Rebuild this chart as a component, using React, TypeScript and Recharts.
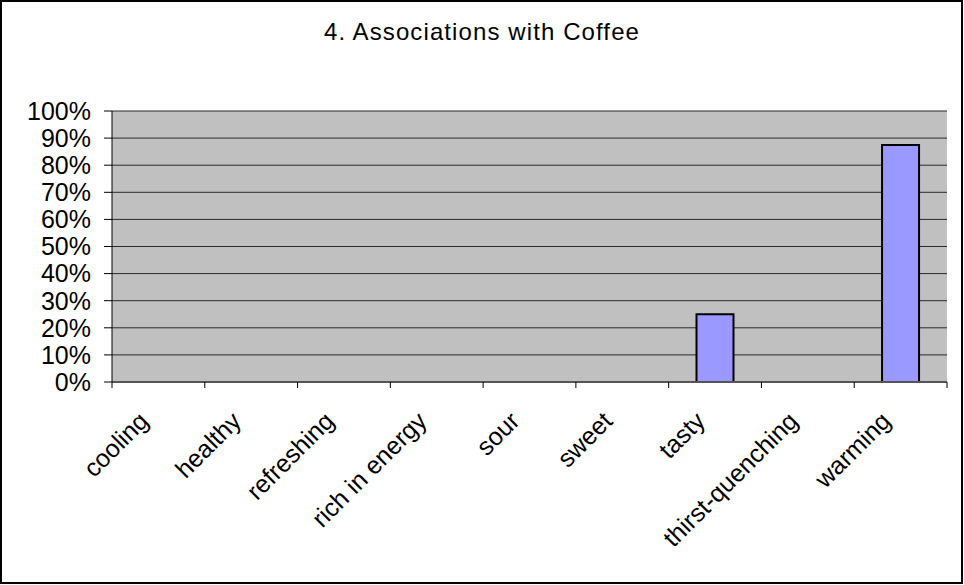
import { BarChart, Bar, CartesianGrid, XAxis, YAxis } from "recharts";

const CATEGORIES = [
  "cooling",
  "healthy",
  "refreshing",
  "rich in energy",
  "sour",
  "sweet",
  "tasty",
  "thirst-quenching",
  "warming",
];

const SHARES = [0, 0, 0, 0, 0, 0, 25, 0, 87.5];

const Y_TICKS = [0, 10, 20, 30, 40, 50, 60, 70, 80, 90, 100];

const FONT = "'Liberation Sans', Arial, sans-serif";

const X_TICK_SIZE = 6;
const X_TICK_MARGIN = 17;

const data = CATEGORIES.map((name, i) => ({ name, value: SHARES[i] }));

// Excel puts the category tick marks between categories, not under them
const CategoryTick = (props: any) => {
  const { x, y, payload, index, visibleTicksCount } = props;
  const half = payload.offset || 0;
  const axisY = y - X_TICK_SIZE - X_TICK_MARGIN;
  const px = x - 21;
  const py = y + 5;
  const isLast = index === visibleTicksCount - 1;
  return (
    <g>
      <line x1={x - half} x2={x - half} y1={axisY} y2={axisY + X_TICK_SIZE} stroke="#000" />
      {isLast && (
        <line x1={x + half} x2={x + half} y1={axisY} y2={axisY + X_TICK_SIZE} stroke="#000" />
      )}
      <text
        x={px}
        y={py}
        dy="0.71em"
        textAnchor="end"
        fontSize={25}
        fontFamily={FONT}
        fill="#000"
        transform={`rotate(-45, ${px}, ${py})`}
      >
        {payload.value}
      </text>
    </g>
  );
};

export default function App() {
  return (
    <div style={{ position: "relative", width: 964, height: 585, background: "#fff" }}>
      <style>{"body{margin:0}"}</style>
      <div
        style={{
          position: "absolute",
          left: 0,
          top: 0,
          width: 963,
          height: 584,
          boxSizing: "border-box",
          border: "2px solid #000",
        }}
      />
      <div
        style={{
          position: "absolute",
          left: 0,
          top: 18,
          width: 964,
          textAlign: "center",
          fontFamily: FONT,
          fontSize: 24,
          letterSpacing: 1.1,
          color: "#000",
        }}
      >
        4. Associations with Coffee
      </div>
      <div style={{ position: "absolute", left: 0, top: 0 }}>
        <BarChart
          width={964}
          height={585}
          data={data}
          margin={{ top: 111, right: 17, bottom: 10, left: 0 }}
          barCategoryGap="30%"
        >
          <CartesianGrid
            vertical={false}
            fill="#C0C0C0"
            stroke="#2a2a2a"
            yAxisId="left"
          />
          <XAxis
            dataKey="name"
            interval={0}
            tickLine={false}
            axisLine={{ stroke: "#555555", strokeWidth: 2 }}
            tick={<CategoryTick />}
            tickSize={X_TICK_SIZE}
            tickMargin={X_TICK_MARGIN}
            height={193}
          />
          <YAxis
            yAxisId="left"
            domain={[0, 100]}
            ticks={Y_TICKS}
            interval={0}
            width={112}
            tickSize={8}
            tickMargin={13}
            tickFormatter={(v) => `${v}%`}
            tick={{ fontSize: 25, fontFamily: FONT, fill: "#000" }}
            axisLine={{ stroke: "#000" }}
            tickLine={{ stroke: "#000" }}
          />
          <YAxis
            yAxisId="right"
            orientation="right"
            domain={[0, 100]}
            width={0}
            tick={false}
            tickLine={false}
            axisLine={{ stroke: "#808080", strokeWidth: 2 }}
          />
          <Bar
            dataKey="value"
            yAxisId="left"
            fill="#9999FF"
            stroke="#000"
            strokeWidth={2}
            isAnimationActive={false}
          />
        </BarChart>
      </div>
    </div>
  );
}
